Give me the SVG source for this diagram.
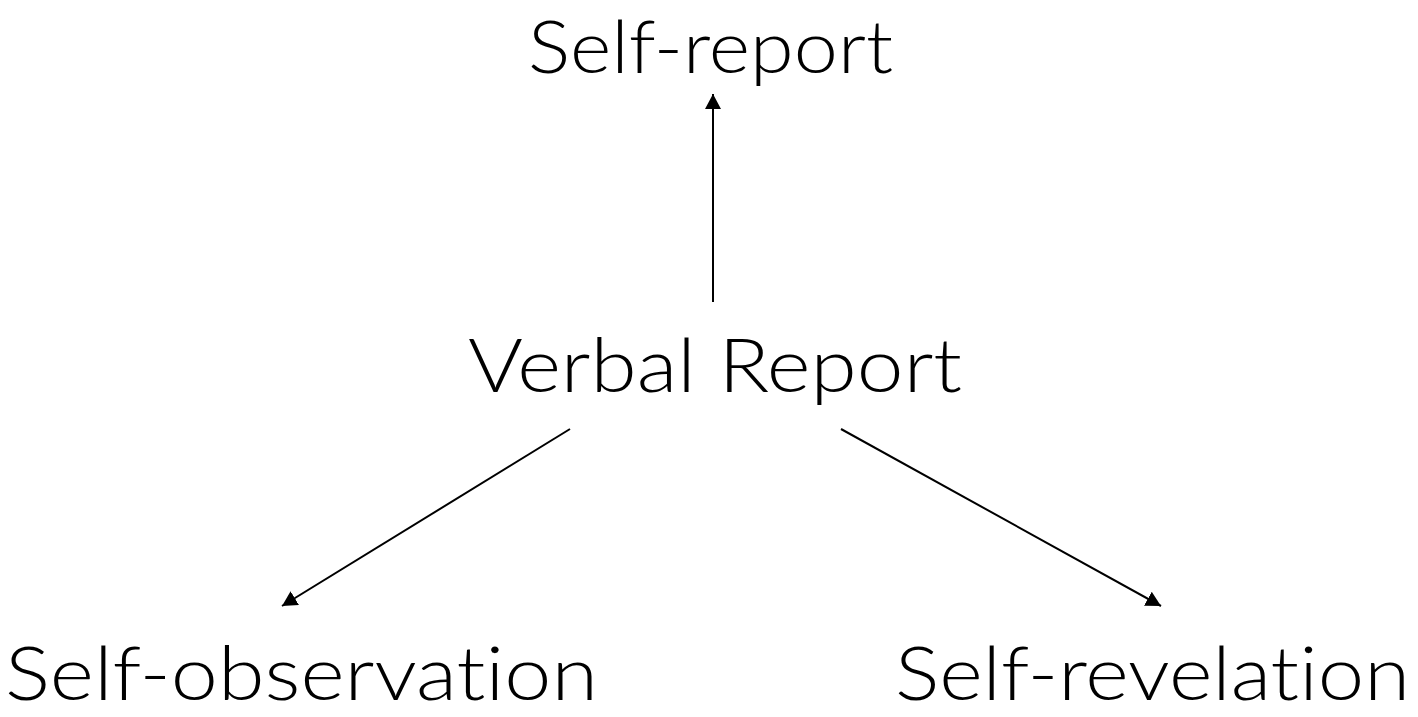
<svg xmlns="http://www.w3.org/2000/svg" width="1418" height="717" viewBox="0 0 1418 717">
<style>
.lbl{font-family:"Lato","DejaVu Sans","Liberation Sans",sans-serif;font-weight:300;font-size:74px;fill:#000;font-variant-ligatures:none;font-feature-settings:"liga" 0,"clig" 0}
.top{font-size:73px}
.edge{stroke:#000;stroke-width:2;fill:none;marker-end:url(#ah)}
</style>
<defs>
<marker id="ah" markerUnits="userSpaceOnUse" markerWidth="16" markerHeight="16" viewBox="0 0 16 16" refX="15" refY="8" orient="auto">
<path d="M0,0 L15,8 L0,16 Z" fill="#000"/>
</marker>
</defs>
<rect width="1418" height="717" fill="#fff"/>
<g id="connectors">
<line class="edge" x1="713" y1="302" x2="713" y2="94"/>
<line class="edge" x1="570" y1="429" x2="282" y2="606"/>
<line class="edge" x1="841" y1="429" x2="1161" y2="606"/>
</g>
<g id="self-report"><text class="lbl top" x="528" y="73" textLength="365" lengthAdjust="spacingAndGlyphs">Self-report</text></g>
<g id="verbal-report"><text class="lbl" x="468" y="392" textLength="494" lengthAdjust="spacingAndGlyphs">Verbal Report</text></g>
<g id="self-observation"><text class="lbl" x="5" y="700" textLength="593" lengthAdjust="spacingAndGlyphs">Self-observation</text></g>
<g id="self-revelation"><text class="lbl" x="895" y="700" textLength="515" lengthAdjust="spacingAndGlyphs">Self-revelation</text></g>
</svg>
